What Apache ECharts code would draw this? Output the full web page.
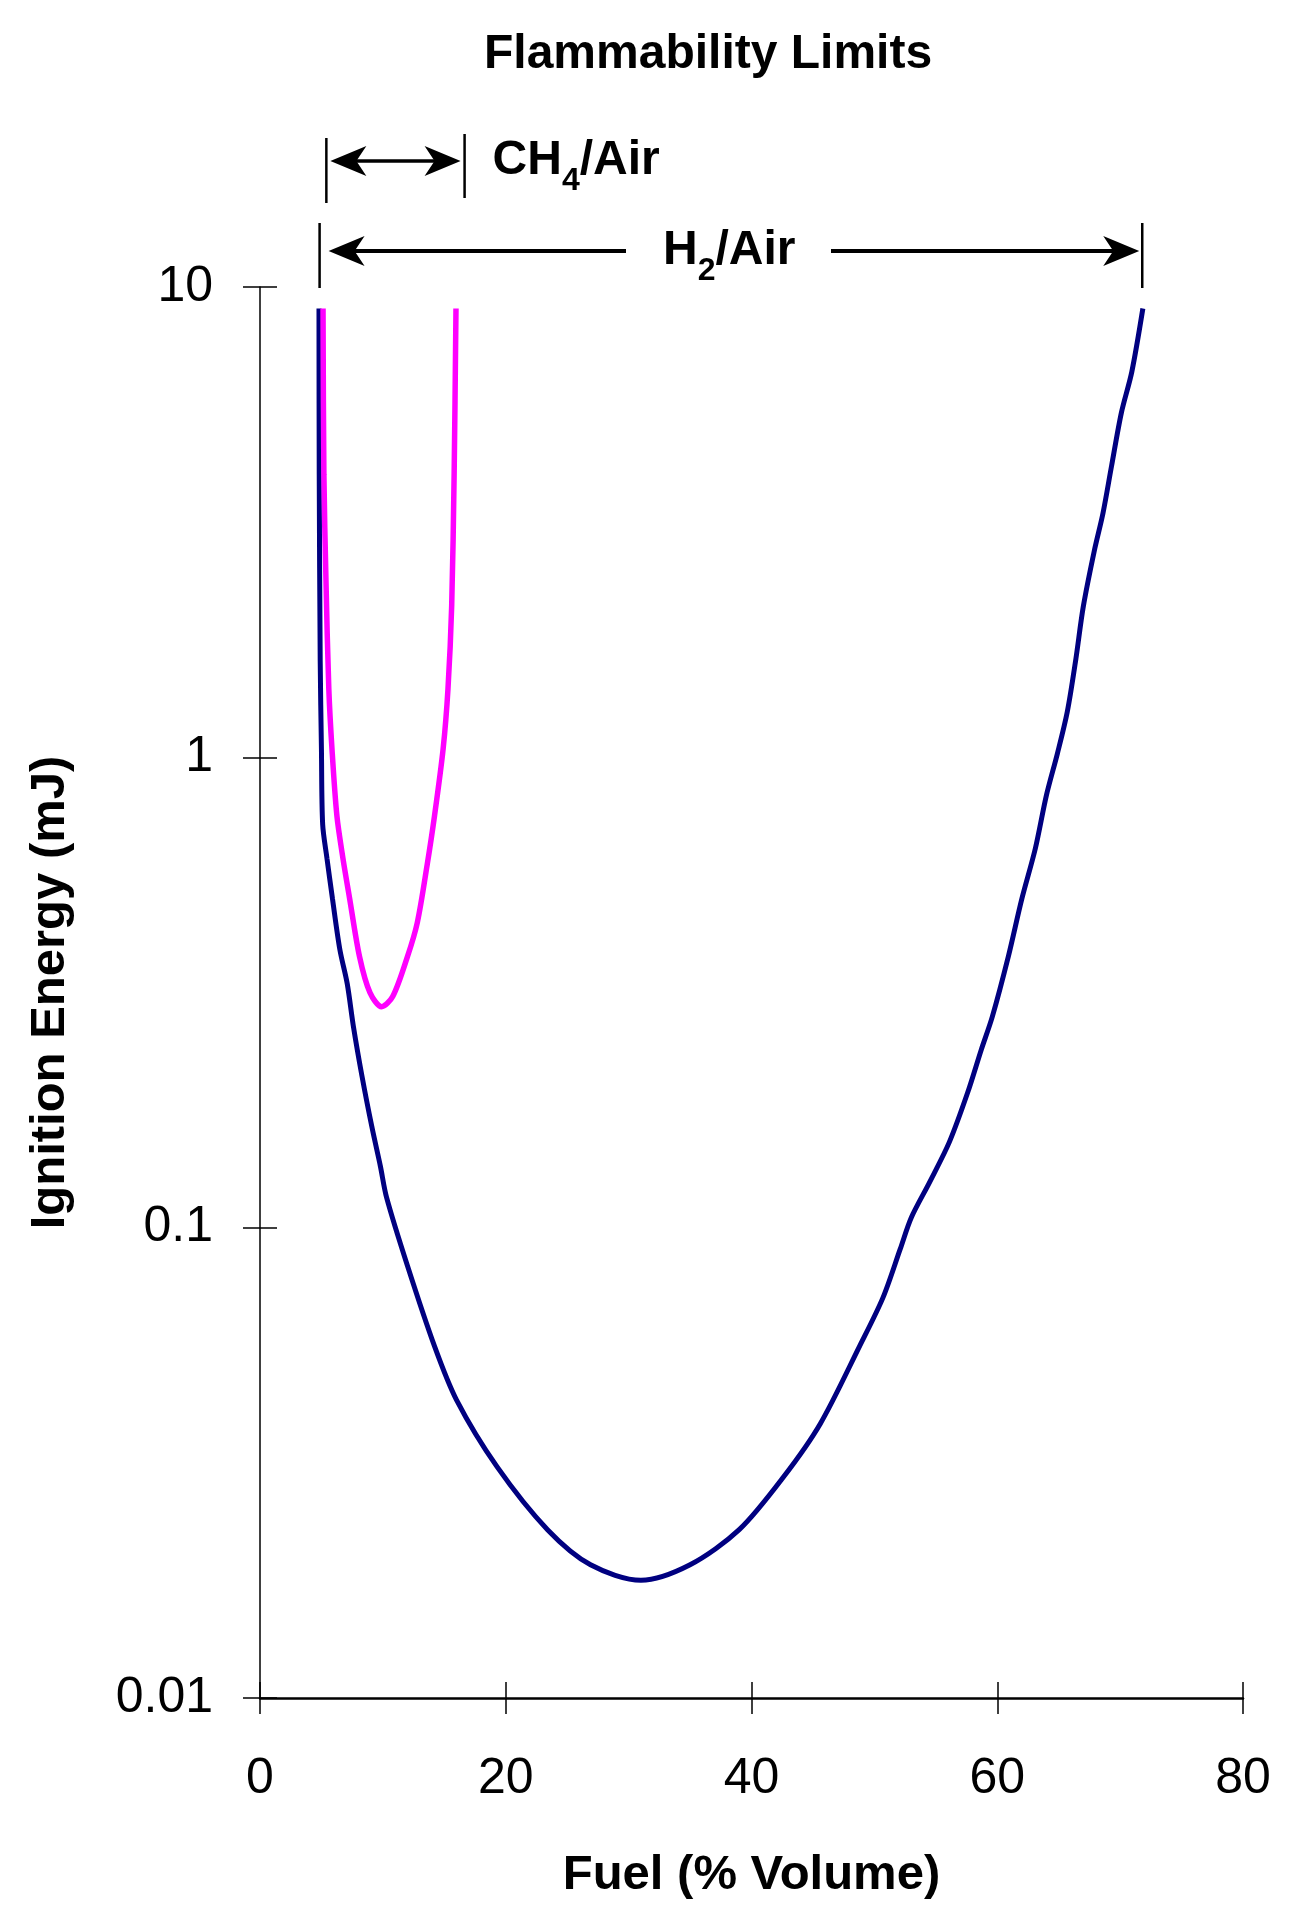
<!DOCTYPE html>
<html>
<head>
<meta charset="utf-8">
<title>Flammability Limits</title>
<script src="https://cdn.jsdelivr.net/npm/echarts@6/dist/echarts.min.js"></script>
<style>
  html, body { margin: 0; padding: 0; background: #fff; }
  #main { width: 1291px; height: 1923px; }
</style>
</head>
<body>
<div id="main"></div>
<script>
// chart texts
var titleText = 'Flammability Limits';
var xName = 'Fuel (% Volume)';
var yName = 'Ignition Energy (mJ)';
var yTickLabels = ['0.01', '0.1', '1', '10'];

// H2 / air curve (fuel %, ignition energy mJ)
var h2Fuel = [4.8, 4.82, 4.9, 5.0, 5.1, 5.45, 5.9, 6.5, 7.1, 7.6, 8.3, 9.1, 9.8, 10.3, 12.0, 14.2, 16.0, 19.3, 23.4, 26.9,
  31.0, 35.0, 39.0, 42.6, 45.6, 48.8, 50.7, 52.1, 53.0, 54.5, 56.1, 57.6, 58.7, 59.6, 60.9, 62.0, 63.1, 64.0, 64.9,
  65.7, 66.4, 67.0, 67.9, 68.6, 69.3, 70.1, 70.95, 71.85];
var h2Energy = [9.0, 4.0, 1.6, 1.04, 0.72, 0.61, 0.5, 0.39, 0.33, 0.268, 0.21, 0.164, 0.135, 0.116, 0.083, 0.056, 0.043, 0.031, 0.0228, 0.0192,
  0.0178, 0.0192, 0.0228, 0.0295, 0.0383, 0.056, 0.071, 0.09, 0.105, 0.125, 0.152, 0.194, 0.239, 0.281, 0.377, 0.5, 0.64, 0.83, 1.02,
  1.25, 1.62, 2.09, 2.75, 3.3, 4.16, 5.4, 6.6, 9.0];

// CH4 / air curve
var ch4Fuel = [5.13, 5.2, 5.37, 5.6, 5.86, 6.26, 6.75, 7.3, 8.1, 8.95, 9.9, 10.8, 12.0, 12.8, 13.6, 14.2, 14.9, 15.3, 15.6, 15.8, 15.95];
var ch4Energy = [9.0, 4.0, 2.37, 1.4, 1.04, 0.75, 0.61, 0.5, 0.377, 0.316, 0.295, 0.31, 0.377, 0.445, 0.59, 0.75, 1.04, 1.4, 2.1, 4.0, 9.0];

// flammability range markers (fuel %)
var ch4Range = [5.4, 16.65];
var h2Range = [4.85, 71.8];

function pairs(xs, ys) {
  var out = [];
  for (var i = 0; i < xs.length; i++) { out.push([xs[i], ys[i]]); }
  return out;
}

var font = 'Arial, "Liberation Sans", sans-serif';
var chart = echarts.init(document.getElementById('main'));

var option = {
  backgroundColor: '#fff',
  animation: false,
  title: {
    text: titleText,
    left: 479,
    top: 26,
    textStyle: { fontFamily: font, fontSize: 48, fontWeight: 'bold', color: '#000' }
  },
  grid: { left: 260, right: 48, top: 287, bottom: 225 },
  xAxis: [
    {
      type: 'value', min: 0, max: 80, interval: 20, position: 'bottom',
      name: xName, nameLocation: 'middle', nameGap: 153,
      nameTextStyle: { fontFamily: font, fontSize: 49, fontWeight: 'bold', color: '#000' },
      axisLine: { show: true, lineStyle: { color: '#000', width: 2.5 } },
      axisTick: { show: true, inside: false, length: 16, lineStyle: { color: '#000', width: 1.5 } },
      axisLabel: { margin: 56, fontFamily: font, fontSize: 50, color: '#000' },
      splitLine: { show: false }
    },
    {
      // second copy only for the inner half of the crossing ticks
      type: 'value', min: 0, max: 80, interval: 20, position: 'bottom',
      axisLine: { show: false },
      axisTick: { show: true, inside: true, length: 16, lineStyle: { color: '#000', width: 1.5 } },
      axisLabel: { show: false },
      splitLine: { show: false }
    }
  ],
  yAxis: [
    {
      type: 'log', logBase: 10, min: 0.01, max: 10, position: 'left',
      name: yName, nameLocation: 'middle', nameGap: 185,
      nameTextStyle: { fontFamily: font, fontSize: 49, fontWeight: 'bold', color: '#000' },
      axisLine: { show: true, lineStyle: { color: '#000', width: 1.5 } },
      axisTick: { show: true, inside: false, length: 17, lineStyle: { color: '#000', width: 1.5 } },
      axisLabel: {
        margin: 47, fontFamily: font, fontSize: 50, color: '#000',
        formatter: function (v) {
          var k = Math.round(Math.log10(v)) + 2;
          return yTickLabels[k] || '';
        }
      },
      minorTick: { show: false },
      splitLine: { show: false }
    },
    {
      type: 'log', logBase: 10, min: 0.01, max: 10, position: 'left',
      axisLine: { show: false },
      axisTick: { show: true, inside: true, length: 17, lineStyle: { color: '#000', width: 1.5 } },
      axisLabel: { show: false },
      splitLine: { show: false }
    }
  ],
  series: [
    {
      name: 'H2/Air', type: 'line', xAxisIndex: 0, yAxisIndex: 0,
      data: pairs(h2Fuel, h2Energy),
      showSymbol: false, symbol: 'none', smooth: 0.3,
      lineStyle: { color: '#000080', width: 5 }
    },
    {
      name: 'CH4/Air', type: 'line', xAxisIndex: 0, yAxisIndex: 0,
      data: pairs(ch4Fuel, ch4Energy),
      showSymbol: false, symbol: 'none', smooth: 0.3,
      lineStyle: { color: '#ff00ff', width: 5.5 }
    }
  ]
};
chart.setOption(option);

// range arrows above the plot
function px(v) { return chart.convertToPixel({ xAxisIndex: 0 }, v); }

function head(tipX, y, dir) {
  // dir = -1 points left, +1 points right
  var len = 36, half = 15, notch = 10;
  return {
    type: 'polygon',
    shape: { points: [[tipX, y], [tipX - dir * len, y - half], [tipX - dir * (len - notch), y], [tipX - dir * len, y + half]] },
    style: { fill: '#000' }
  };
}
function vbar(x, y1, y2) {
  return { type: 'line', shape: { x1: x, y1: y1, x2: x, y2: y2 }, style: { stroke: '#000', lineWidth: 2.5 } };
}
function shaft(x1, x2, y, w) {
  return { type: 'line', shape: { x1: x1, y1: y, x2: x2, y2: y }, style: { stroke: '#000', lineWidth: w } };
}
function label(x, y, main, sub, rest) {
  return {
    type: 'text',
    style: {
      x: x, y: y, align: 'left', verticalAlign: 'middle',
      text: '{m|' + main + '}{s|' + sub + '}{m|' + rest + '}',
      rich: {
        m: { fontFamily: font, fontSize: 48, fontWeight: 'bold', fill: '#000', lineHeight: 72, verticalAlign: 'middle' },
        s: { fontFamily: font, fontSize: 32, fontWeight: 'bold', fill: '#000', lineHeight: 32, verticalAlign: 'bottom' }
      }
    }
  };
}

var cL = px(ch4Range[0]), cR = px(ch4Range[1]);
var hL = px(h2Range[0]), hR = px(h2Range[1]);
var cy = 161, hy = 251;

chart.setOption({
  graphic: [
    vbar(cL, 138, 203),
    vbar(cR, 134, 198),
    shaft(cL + 20, cR - 20, cy, 3.5),
    head(cL + 4, cy, -1),
    head(cR - 4, cy, 1),
    label(cR + 28, cy, 'CH', '4', '/Air'),

    vbar(hL, 223, 288),
    vbar(hR, 223, 288),
    shaft(hL + 20, 626, hy, 4),
    head(hL + 9, hy, -1),
    label(663, hy, 'H', '2', '/Air'),
    shaft(831, hR - 20, hy, 4),
    head(hR - 3, hy, 1)
  ]
});
</script>
</body>
</html>
